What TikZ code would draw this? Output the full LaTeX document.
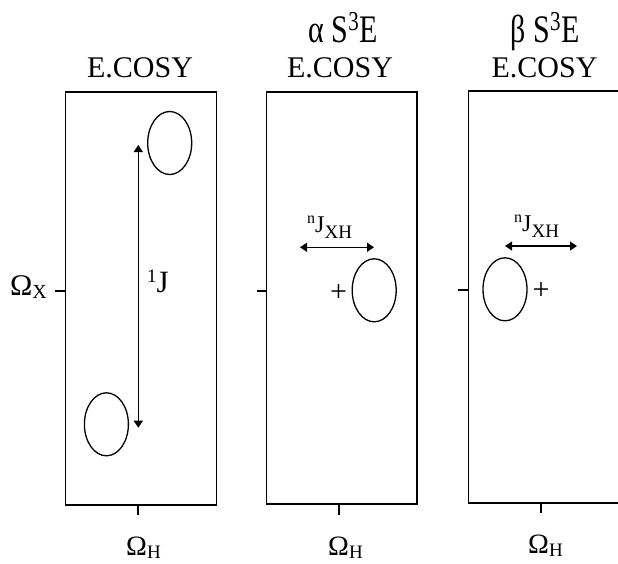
\documentclass[tikz,border=0pt]{standalone}
\usepackage{fontspec}
\setmainfont{Liberation Serif}
\usetikzlibrary{arrows.meta,shapes.geometric}
\newcommand\fsz[1]{\fontsize{#1}{#1}\selectfont}
\begin{document}
\begin{tikzpicture}[x=1pt,y=-1pt,
  frame/.style={line width=1.8pt},
  peak/.style={draw,ellipse,line width=1.3pt,minimum width=44pt,minimum height=63pt,inner sep=0pt},
  dbl/.style={line width=1.3pt,{Triangle[width=9pt,length=7pt]}-{Triangle[width=9pt,length=7pt]}},
  tickline/.style={line width=1.5pt},
  lab/.style={inner sep=0pt,anchor=base west},
  ttl/.style={inner sep=0pt,anchor=base}]
\useasboundingbox (0,0) rectangle (618,563);
% frames
\draw[frame] (65.5,92) rectangle (216.5,505);
\draw[frame] (266.5,92) rectangle (417,504);
\draw[frame] (618,91) -- (468.5,91) -- (468.5,503) -- (618,503);
% titles
\node[ttl] (t1) at (140,77) {\fsz{30}E.COSY};
\node[ttl] (t2) at (340,77) {\fsz{30}E.COSY};
\node[ttl] (t3) at (544.5,77) {\fsz{30}E.COSY};
\node[ttl] (s2) at (343,42.5) {\fsz{30}\scalebox{1}[1.3]{α S\textsuperscript{3}E}};
\node[ttl] (s3) at (545,42.5) {\fsz{30}\scalebox{1}[1.3]{β S\textsuperscript{3}E}};
% peaks
\node[peak] (p1) at (169.7,143) {};
\node[peak] (p2) at (106.4,424.3) {};
\node[peak] (p3) at (374.2,290.3) {};
\node[peak] (p4) at (505,289.3) {};
\node[inner sep=0pt] (plus2) at (338.7,293) {\fsz{30}+};
\node[inner sep=0pt] (plus3) at (541,291) {\fsz{30}+};
% couplings
\coordinate (j1a) at (138.3,145);
\coordinate (j1b) at (138.3,427.7);
\draw[dbl] (j1a) -- (j1b);
\coordinate (j2a) at (300,247.3);
\coordinate (j2b) at (374,247.3);
\draw[dbl] (j2a) -- (j2b);
\coordinate (j3a) at (505,246);
\coordinate (j3b) at (577,246);
\draw[dbl] (j3a) -- (j3b);
\node[lab] (jl1) at (147,292) {\raisebox{10pt}{\fsz{19}1}\fsz{31}J};
\node[lab] (jl2) at (307,232) {\raisebox{9pt}{\fsz{16}n}\fsz{24}J\raisebox{-6pt}{\fsz{19}XH}};
\node[lab] (jl3) at (514,231) {\raisebox{9pt}{\fsz{16}n}\fsz{24}J\raisebox{-6pt}{\fsz{19}XH}};
% ticks
\coordinate (xa1) at (55,291);   \coordinate (xb1) at (65.5,291);
\coordinate (xa2) at (257,291);  \coordinate (xb2) at (266.5,291);
\coordinate (xa3) at (458,290);  \coordinate (xb3) at (468.5,290);
\draw[tickline] (xa1) -- (xb1);
\draw[tickline] (xa2) -- (xb2);
\draw[tickline] (xa3) -- (xb3);
\coordinate (ha1) at (138,505);  \coordinate (hb1) at (138,515);
\coordinate (ha2) at (339,504);  \coordinate (hb2) at (339,515);
\coordinate (ha3) at (541,503);  \coordinate (hb3) at (541,513);
\draw[tickline] (ha1) -- (hb1);
\draw[tickline] (ha2) -- (hb2);
\draw[tickline] (ha3) -- (hb3);
% axis labels
\node[lab] (ox) at (10,295) {\fsz{30}Ω\raisebox{-3pt}{\fsz{20}X}};
\node[lab] (oh1) at (126,555) {\fsz{28}Ω\raisebox{-3.5pt}{\fsz{19}H}};
\node[lab] (oh2) at (328,555) {\fsz{28}Ω\raisebox{-3.5pt}{\fsz{19}H}};
\node[lab] (oh3) at (528,553) {\fsz{28}Ω\raisebox{-3.5pt}{\fsz{19}H}};
\end{tikzpicture}
\end{document}
